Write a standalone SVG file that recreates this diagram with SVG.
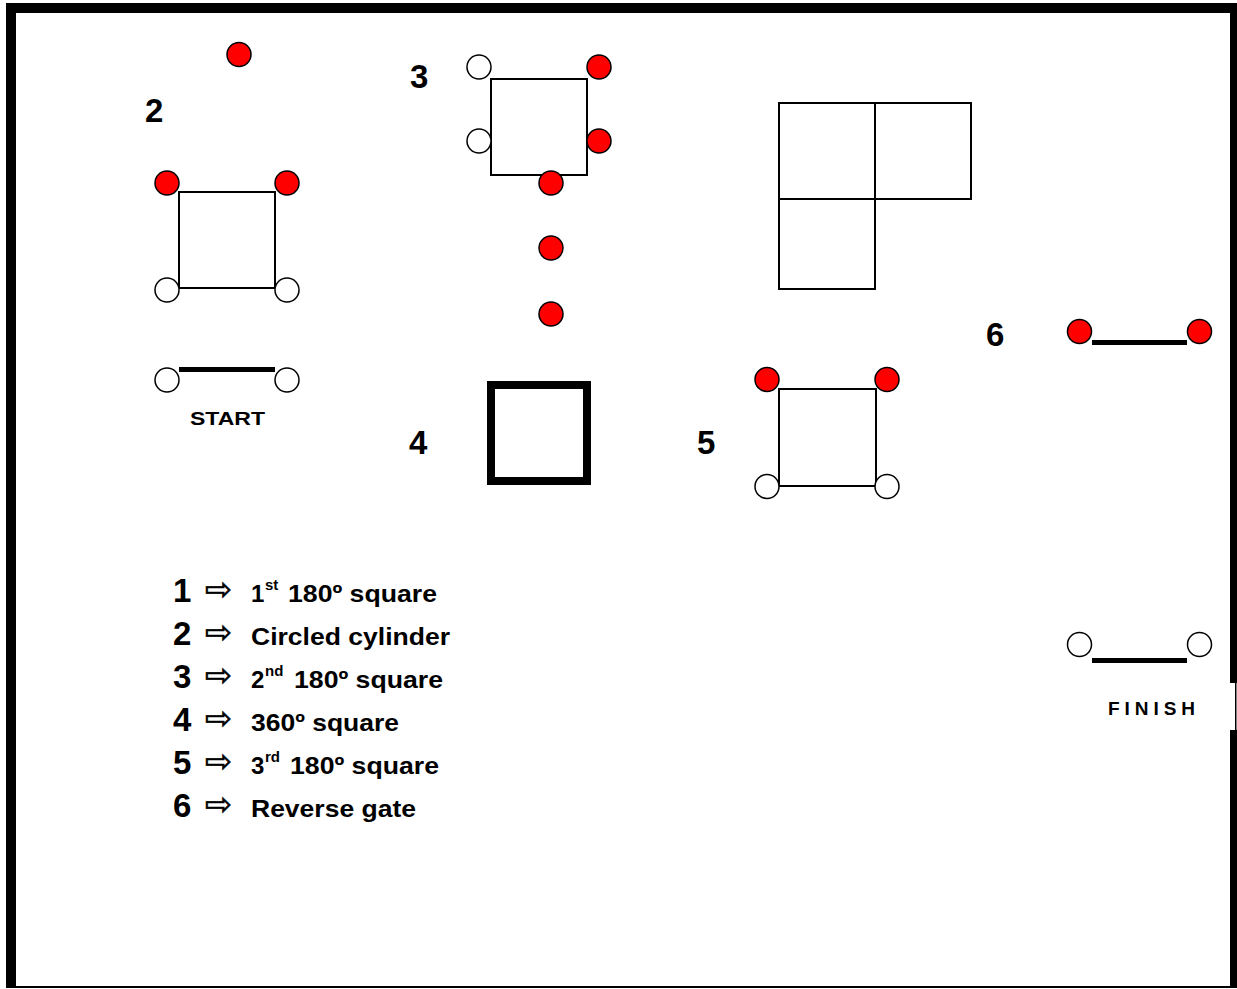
<svg xmlns="http://www.w3.org/2000/svg" width="1237" height="989" viewBox="0 0 1237 989">
  <style>
    .red { fill: #ff0000; stroke: #000; stroke-width: 1.5; }
    .white { fill: #fff; stroke: #000; stroke-width: 1.5; }
    .sq { fill: none; stroke: #000; stroke-width: 2; }
    .gate { stroke: #000; stroke-width: 5; }
    .num { font-family: "Liberation Sans", Arial, sans-serif; font-weight: bold; font-size: 33px; fill: #000; }
    .lbl { font-family: "Liberation Sans", Arial, sans-serif; font-weight: bold; font-size: 24px; fill: #000; }
    .sup { font-family: "Liberation Sans", Arial, sans-serif; font-weight: bold; font-size: 15px; fill: #000; }
    .tag { font-family: "Liberation Sans", Arial, sans-serif; font-weight: bold; font-size: 19px; fill: #000; }
    .arrow { font-family: "DejaVu Sans", sans-serif; font-size: 32px; fill: #000; stroke: #000; stroke-width: 0.6; }
  </style>

  <rect width="1237" height="989" fill="#fff"/>

  <!-- arena frame, with an opening on the right beside the finish -->
  <g id="frame" fill="#000">
    <rect x="6" y="3" width="1231" height="10"/>
    <rect x="6" y="3" width="10" height="985"/>
    <rect x="1230" y="3" width="7" height="680"/>
    <rect x="1230" y="730" width="7" height="258"/>
    <rect x="1235" y="683" width="1.5" height="47"/>
    <rect x="6" y="986" width="1231" height="2"/>
  </g>

  <!-- start gate -->
  <g id="start">
    <line class="gate" x1="179" y1="369.5" x2="275" y2="369.5"/>
    <circle class="white" cx="167" cy="380" r="12"/>
    <circle class="white" cx="287" cy="380" r="12"/>
    <text class="tag" x="190" y="425" textLength="75" lengthAdjust="spacingAndGlyphs">START</text>
  </g>

  <!-- first 180 square -->
  <g id="square1">
    <rect class="sq" x="179" y="192" width="96" height="96"/>
    <circle class="red" cx="167" cy="183" r="12"/>
    <circle class="red" cx="287" cy="183" r="12"/>
    <circle class="white" cx="167" cy="290" r="12"/>
    <circle class="white" cx="287" cy="290" r="12"/>
  </g>

  <!-- circled cylinder -->
  <g id="cylinder">
    <circle class="red" cx="239" cy="54.5" r="12"/>
    <text class="num" x="145" y="122">2</text>
  </g>

  <!-- second 180 square -->
  <g id="square2">
    <text class="num" x="410" y="88">3</text>
    <rect class="sq" x="491" y="79" width="96" height="96"/>
    <circle class="white" cx="479" cy="67" r="12"/>
    <circle class="red" cx="599" cy="67" r="12"/>
    <circle class="white" cx="479" cy="141" r="12"/>
    <circle class="red" cx="599" cy="141" r="12"/>
    <circle class="red" cx="551" cy="183" r="12"/>
    <circle class="red" cx="551" cy="248" r="12"/>
    <circle class="red" cx="551" cy="314" r="12"/>
  </g>

  <!-- L-shaped block of squares -->
  <g id="block">
    <rect class="sq" x="779" y="103" width="96" height="96"/>
    <rect class="sq" x="875" y="103" width="96" height="96"/>
    <rect class="sq" x="779" y="199" width="96" height="90"/>
  </g>

  <!-- 360 square -->
  <g id="square360">
    <text class="num" x="409" y="454">4</text>
    <rect x="491" y="385" width="96" height="96" fill="none" stroke="#000" stroke-width="8"/>
  </g>

  <!-- third 180 square -->
  <g id="square3">
    <text class="num" x="697" y="454">5</text>
    <rect class="sq" x="779" y="389" width="97" height="97"/>
    <circle class="red" cx="767" cy="379.5" r="12"/>
    <circle class="red" cx="887" cy="379.5" r="12"/>
    <circle class="white" cx="767" cy="486.5" r="12"/>
    <circle class="white" cx="887" cy="486.5" r="12"/>
  </g>

  <!-- reverse gate -->
  <g id="reverse">
    <text class="num" x="986" y="346">6</text>
    <line class="gate" x1="1092" y1="342.5" x2="1187" y2="342.5"/>
    <circle class="red" cx="1079.5" cy="331.5" r="12"/>
    <circle class="red" cx="1199.5" cy="331.5" r="12"/>
  </g>

  <!-- finish gate -->
  <g id="finish">
    <line class="gate" x1="1092" y1="660.5" x2="1187" y2="660.5"/>
    <circle class="white" cx="1079.5" cy="644.5" r="12"/>
    <circle class="white" cx="1199.5" cy="644.5" r="12"/>
    <text class="tag" x="1108" y="715" textLength="87" lengthAdjust="spacing">FINISH</text>
  </g>

  <!-- legend -->
  <g id="legend">
    <text class="num" x="173" y="602">1</text>
    <text class="arrow" x="205" y="600" textLength="27" lengthAdjust="spacingAndGlyphs">⇨</text>
    <text class="lbl" x="251" y="602">1</text>
    <text class="sup" x="265" y="590">st</text>
    <text class="lbl" x="288" y="602" textLength="149" lengthAdjust="spacingAndGlyphs">180º square</text>

    <text class="num" x="173" y="645">2</text>
    <text class="arrow" x="205" y="643" textLength="27" lengthAdjust="spacingAndGlyphs">⇨</text>
    <text class="lbl" x="251" y="645" textLength="199" lengthAdjust="spacingAndGlyphs">Circled cylinder</text>

    <text class="num" x="173" y="688">3</text>
    <text class="arrow" x="205" y="686" textLength="27" lengthAdjust="spacingAndGlyphs">⇨</text>
    <text class="lbl" x="251" y="688">2</text>
    <text class="sup" x="265" y="676">nd</text>
    <text class="lbl" x="294" y="688" textLength="149" lengthAdjust="spacingAndGlyphs">180º square</text>

    <text class="num" x="173" y="731">4</text>
    <text class="arrow" x="205" y="729" textLength="27" lengthAdjust="spacingAndGlyphs">⇨</text>
    <text class="lbl" x="251" y="731" textLength="148" lengthAdjust="spacingAndGlyphs">360º square</text>

    <text class="num" x="173" y="774">5</text>
    <text class="arrow" x="205" y="772" textLength="27" lengthAdjust="spacingAndGlyphs">⇨</text>
    <text class="lbl" x="251" y="774">3</text>
    <text class="sup" x="265" y="762">rd</text>
    <text class="lbl" x="290" y="774" textLength="149" lengthAdjust="spacingAndGlyphs">180º square</text>

    <text class="num" x="173" y="817">6</text>
    <text class="arrow" x="205" y="815" textLength="27" lengthAdjust="spacingAndGlyphs">⇨</text>
    <text class="lbl" x="251" y="817" textLength="165" lengthAdjust="spacingAndGlyphs">Reverse gate</text>
  </g>
</svg>
